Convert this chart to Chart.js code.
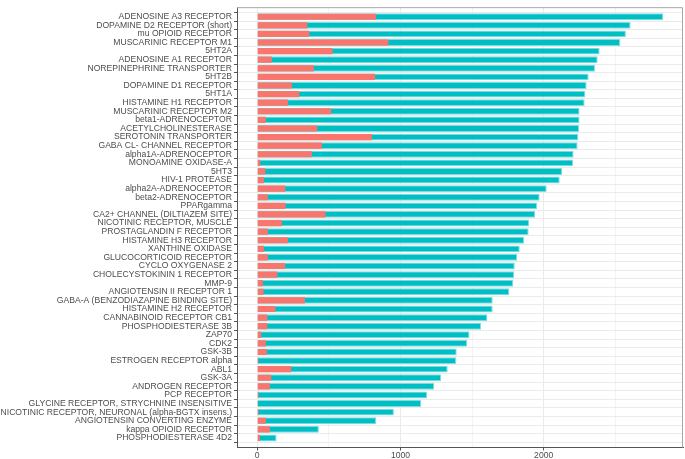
<!DOCTYPE html>
<html>
<head>
<meta charset="utf-8">
<script src="https://cdn.jsdelivr.net/npm/chart.js@4/dist/chart.umd.min.js"></script>
<style>
  html, body { margin: 0; padding: 0; background: #ffffff; }
  #wrap { width: 685px; height: 459px; }
</style>
</head>
<body>
<div id="wrap"><canvas id="c" width="685" height="459"></canvas></div>
<script>
const categories = [
  "ADENOSINE A3 RECEPTOR",
  "DOPAMINE D2 RECEPTOR (short)",
  "mu OPIOID RECEPTOR",
  "MUSCARINIC RECEPTOR M1",
  "5HT2A",
  "ADENOSINE A1 RECEPTOR",
  "NOREPINEPHRINE TRANSPORTER",
  "5HT2B",
  "DOPAMINE D1 RECEPTOR",
  "5HT1A",
  "HISTAMINE H1 RECEPTOR",
  "MUSCARINIC RECEPTOR M2",
  "beta1-ADRENOCEPTOR",
  "ACETYLCHOLINESTERASE",
  "SEROTONIN TRANSPORTER",
  "GABA CL- CHANNEL RECEPTOR",
  "alpha1A-ADRENOCEPTOR",
  "MONOAMINE OXIDASE-A",
  "5HT3",
  "HIV-1 PROTEASE",
  "alpha2A-ADRENOCEPTOR",
  "beta2-ADRENOCEPTOR",
  "PPARgamma",
  "CA2+ CHANNEL (DILTIAZEM SITE)",
  "NICOTINIC RECEPTOR, MUSCLE",
  "PROSTAGLANDIN F RECEPTOR",
  "HISTAMINE H3 RECEPTOR",
  "XANTHINE OXIDASE",
  "GLUCOCORTICOID RECEPTOR",
  "CYCLO OXYGENASE 2",
  "CHOLECYSTOKININ 1 RECEPTOR",
  "MMP-9",
  "ANGIOTENSIN II RECEPTOR 1",
  "GABA-A (BENZODIAZAPINE BINDING SITE)",
  "HISTAMINE H2 RECEPTOR",
  "CANNABINOID RECEPTOR CB1",
  "PHOSPHODIESTERASE 3B",
  "ZAP70",
  "CDK2",
  "GSK-3B",
  "ESTROGEN RECEPTOR alpha",
  "ABL1",
  "GSK-3A",
  "ANDROGEN RECEPTOR",
  "PCP RECEPTOR",
  "GLYCINE RECEPTOR, STRYCHNINE INSENSITIVE",
  "NICOTINIC RECEPTOR, NEURONAL (alpha-BGTX insens.)",
  "ANGIOTENSIN CONVERTING ENZYME",
  "kappa OPIOID RECEPTOR",
  "PHOSPHODIESTERASE 4D2"
];

const totalValues = [
  2835, 2607, 2574, 2535, 2391, 2377, 2358, 2314, 2300, 2291,
  2286, 2251, 2251, 2247, 2242, 2237, 2209, 2205, 2128, 2112,
  2021, 1972, 1954, 1940, 1898, 1895, 1863, 1833, 1814, 1798,
  1793, 1788, 1760, 1644, 1644, 1607, 1563, 1482, 1465, 1393,
  1388, 1330, 1284, 1235, 1186, 1144, 954, 830, 430, 135
];

const subsetValues = [
  830, 349, 363, 916, 526, 102, 395, 823, 242, 293,
  214, 516, 60, 419, 800, 451, 381, 21, 56, 47,
  195, 74, 198, 477, 172, 74, 214, 47, 74, 195,
  140, 40, 44, 333, 126, 70, 70, 28, 60, 67,
  7, 237, 98, 88, 9, 2, 9, 60, 88, 19
];

const xTickValues = [0, 500, 1000, 1500, 2000, 2500];
const xTickLabels = { 0: "0", 1000: "1000", 2000: "2000" };

const totalData = totalValues.map((v, i) => ({ x: v, y: i }));
const subsetData = subsetValues.map((v, i) => ({ x: v, y: i }));

const FONT = { family: "'Liberation Sans', Arial, Helvetica, sans-serif", size: 8.6 };

const panelBox = {
  id: 'panelBox',
  afterDraw(chart) {
    const a = chart.chartArea;
    const ctx = chart.ctx;
    ctx.save();
    ctx.strokeStyle = '#a8a8a8';
    ctx.lineWidth = 1;
    ctx.beginPath();
    ctx.moveTo(a.left, a.top + 0.5);
    ctx.lineTo(a.right - 0.5, a.top + 0.5);
    ctx.lineTo(a.right - 0.5, a.bottom);
    ctx.stroke();
    ctx.restore();
  }
};

new Chart(document.getElementById('c'), {
  type: 'bar',
  data: {
    datasets: [
      {
        label: 'subset',
        data: subsetData,
        backgroundColor: '#F8766D',
        borderWidth: 0,
        order: 1,
        categoryPercentage: 0.72,
        barPercentage: 1.0
      },
      {
        label: 'total',
        data: totalData,
        backgroundColor: '#00BFC4',
        borderColor: '#7FDDE0',
        borderWidth: 1,
        order: 2,
        categoryPercentage: 0.8,
        barPercentage: 1.0
      }
    ]
  },
  options: {
    indexAxis: 'y',
    responsive: false,
    animation: false,
    devicePixelRatio: 1,
    grouped: false,
    layout: { padding: { left: 0, right: 2, top: 1, bottom: 0 } },
    plugins: {
      legend: { display: false },
      tooltip: { enabled: false }
    },
    scales: {
      x: {
        type: 'linear',
        min: -141.5,
        max: 2973,
        afterBuildTicks(scale) {
          scale.ticks = xTickValues.map(v => ({ value: v }));
        },
        afterFit(scale) { scale.height = 11.5; },
        ticks: {
          autoSkip: false,
          maxRotation: 0,
          padding: 0,
          color: '#4d4d4d',
          font: FONT,
          callback: (v) => (xTickLabels[v] !== undefined ? xTickLabels[v] : '')
        },
        grid: {
          color: (ctx) => (ctx.tick && ctx.tick.value % 1000 === 0 ? '#ebebeb' : '#f4f4f4'),
          lineWidth: 1,
          tickLength: 3,
          tickColor: (ctx) => (ctx.tick && ctx.tick.value % 1000 === 0 ? '#555555' : 'rgba(0,0,0,0)')
        },
        border: { display: true, color: '#555555', width: 1 }
      },
      y: {
        type: 'linear',
        reverse: true,
        min: -0.6,
        max: categories.length - 1 + 0.6,
        afterBuildTicks(scale) {
          scale.ticks = categories.map((c, i) => ({ value: i }));
        },
        afterFit(scale) { scale.width = 237; },
        ticks: {
          autoSkip: false,
          padding: 2,
          color: '#4d4d4d',
          font: FONT,
          callback: (v) => categories[v] !== undefined ? categories[v] : ''
        },
        grid: {
          color: '#ebebeb',
          lineWidth: 1,
          tickLength: 3,
          tickColor: '#555555'
        },
        border: { display: true, color: '#555555', width: 1 }
      }
    }
  },
  plugins: [panelBox]
});
</script>
</body>
</html>
